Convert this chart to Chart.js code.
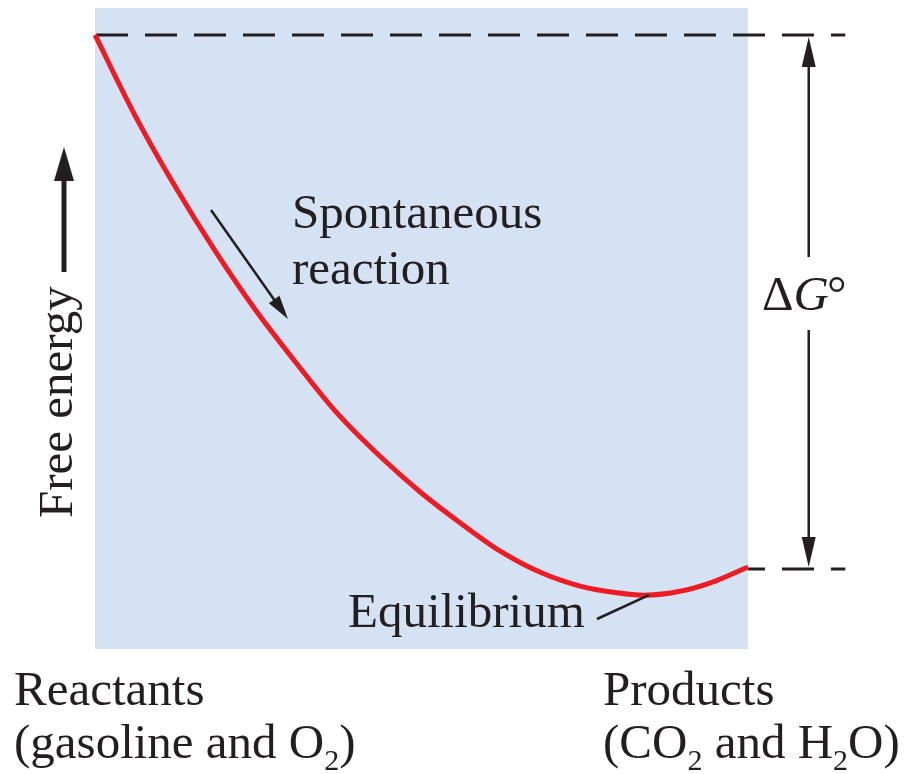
<!DOCTYPE html>
<html>
<head>
<meta charset="utf-8">
<title>Free energy</title>
<script src="https://cdn.jsdelivr.net/npm/chart.js@4"></script>
<style>
  body { margin: 0; background: #fff; }
  canvas { display: block; }
</style>
</head>
<body>
<canvas id="energyChart" width="904" height="774"></canvas>
<script>
// reaction progress (0 = reactants, 100 = products)
const progress = [0, 6.1, 12.3, 18.4, 24.5, 30.6, 36.8, 43.6, 49.8, 55.9, 62.0, 68.1, 74.3, 79.6, 84.2, 89.6, 95.0, 100];
// free energy, arbitrary units
const freeEnergy = [95.8, 83.3, 72.1, 62.1, 53.0, 44.9, 37.1, 30.1, 24.5, 19.7, 15.3, 12.0, 9.8, 8.8, 8.4, 9.0, 10.6, 12.8];

const minIndex = freeEnergy.indexOf(Math.min(...freeEnergy));
const deltaGx = 109.3;   // x position of the ΔG° arrow, same units as progress
const dashEndX = 114.9;  // where the dashed level lines stop

const ink = '#231f20';
const serif = '"Liberation Serif", "DejaVu Serif", serif';

function arrowHead(ctx, tipX, tipY, fromX, fromY, len, half) {
    const a = Math.atan2(tipY - fromY, tipX - fromX);
    ctx.beginPath();
    ctx.moveTo(tipX, tipY);
    ctx.lineTo(tipX - len * Math.cos(a) + half * Math.sin(a), tipY - len * Math.sin(a) - half * Math.cos(a));
    ctx.lineTo(tipX - len * Math.cos(a) - half * Math.sin(a), tipY - len * Math.sin(a) + half * Math.cos(a));
    ctx.closePath();
    ctx.fill();
}

// text with subscript pieces: [[text, isSub], ...]
function subText(ctx, parts, x, y) {
    parts.forEach(function(p) {
        ctx.font = p[1] ? '30px ' + serif : '49px ' + serif;
        ctx.fillText(p[0], x, p[1] ? y + 12 : y);
        x += ctx.measureText(p[0]).width;
    });
}

const diagramPlugin = {
    id: 'diagram',
    beforeDatasetsDraw(chart) {
        const ctx = chart.ctx;
        const a = chart.chartArea;
        const xs = chart.scales.x, ys = chart.scales.y;
        ctx.save();
        ctx.fillStyle = '#d4e2f4';
        ctx.fillRect(a.left, a.top, a.right - a.left, a.bottom - a.top);

        // dashed level lines for reactants and products
        const x0 = xs.getPixelForValue(progress[0]);
        const x1 = xs.getPixelForValue(progress[progress.length - 1]);
        const xe = xs.getPixelForValue(dashEndX);
        const yTop = ys.getPixelForValue(freeEnergy[0]);
        const yBot = ys.getPixelForValue(freeEnergy[freeEnergy.length - 1]) + 2;
        ctx.strokeStyle = ink;
        ctx.lineWidth = 3;
        ctx.setLineDash([32, 17]);
        ctx.lineDashOffset = 0;
        ctx.beginPath();
        ctx.moveTo(x0 + 1, yTop);
        ctx.lineTo(xe, yTop);
        ctx.stroke();
        ctx.lineDashOffset = (x1 - x0 - 1) % 49;
        ctx.beginPath();
        ctx.moveTo(x1, yBot);
        ctx.lineTo(xe, yBot);
        ctx.stroke();
        ctx.restore();
    },
    afterDatasetsDraw(chart) {
        const ctx = chart.ctx;
        const xs = chart.scales.x, ys = chart.scales.y;
        ctx.save();
        ctx.fillStyle = ink;
        ctx.strokeStyle = ink;
        ctx.textBaseline = 'alphabetic';

        // ΔG° double arrow
        const gx = xs.getPixelForValue(deltaGx);
        const yTop = ys.getPixelForValue(freeEnergy[0]);
        const yBot = ys.getPixelForValue(freeEnergy[freeEnergy.length - 1]) + 2;
        ctx.lineWidth = 2.5;
        ctx.beginPath();
        ctx.moveTo(gx, yTop + 20);
        ctx.lineTo(gx, 257);
        ctx.moveTo(gx, 330);
        ctx.lineTo(gx, yBot - 20);
        ctx.stroke();
        arrowHead(ctx, gx, yTop + 2, gx, yTop + 40, 30, 7);
        arrowHead(ctx, gx, yBot - 2, gx, yBot - 40, 30, 7);
        ctx.font = '49px ' + serif;
        ctx.fillText('\u0394', 762, 310);
        let w = ctx.measureText('\u0394').width;
        ctx.font = 'italic 49px ' + serif;
        ctx.fillText('G', 762 + w, 310);
        w += ctx.measureText('G').width;
        ctx.font = '49px ' + serif;
        ctx.fillText('\u00b0', 762 + w - 2, 310);

        // spontaneous reaction arrow and label
        ctx.lineWidth = 2.5;
        ctx.beginPath();
        ctx.moveTo(211, 210);
        ctx.lineTo(280, 308);
        ctx.stroke();
        arrowHead(ctx, 288, 319, 211, 210, 24, 6.5);
        ctx.font = '49px ' + serif;
        ctx.fillText('Spontaneous', 292, 228);
        ctx.fillText('reaction', 292, 284);

        // equilibrium label and leader to the minimum
        const mx = xs.getPixelForValue(progress[minIndex]) + 4;
        const my = ys.getPixelForValue(freeEnergy[minIndex]);
        ctx.lineWidth = 2.5;
        ctx.beginPath();
        ctx.moveTo(597, 619);
        ctx.lineTo(mx, my);
        ctx.stroke();
        ctx.fillText('Equilibrium', 348, 627);

        // free energy axis label with arrow
        ctx.lineWidth = 5;
        ctx.beginPath();
        ctx.moveTo(64, 272);
        ctx.lineTo(64, 175);
        ctx.stroke();
        arrowHead(ctx, 64, 147, 64, 272, 34, 10);
        ctx.save();
        ctx.translate(72, 518);
        ctx.rotate(-Math.PI / 2);
        ctx.fillText('Free energy', 0, 0);
        ctx.restore();

        // end labels
        ctx.font = '49px ' + serif;
        ctx.fillText('Reactants', 14, 705);
        subText(ctx, [['(gasoline and O', false], ['2', true], [')', false]], 14, 758);
        ctx.font = '49px ' + serif;
        ctx.fillText('Products', 603, 705);
        subText(ctx, [['(CO', false], ['2', true], [' and H', false], ['2', true], ['O)', false]], 603, 758);
        ctx.restore();
    }
};

const ctx = document.getElementById('energyChart').getContext('2d');
new Chart(ctx, {
    type: 'line',
    data: {
        datasets: [{
            data: progress.map(function(p, i) { return { x: p, y: freeEnergy[i] }; }),
            borderColor: '#ed1c24',
            borderWidth: 5,
            pointRadius: 0,
            cubicInterpolationMode: 'monotone',
            fill: false,
            clip: false
        }]
    },
    options: {
        responsive: false,
        animation: false,
        layout: { padding: { left: 95, right: 156, top: 8, bottom: 125 } },
        plugins: { legend: { display: false }, tooltip: { enabled: false } },
        scales: {
            x: { type: 'linear', min: 0, max: 100, display: false },
            y: { min: 0, max: 100, display: false }
        }
    },
    plugins: [diagramPlugin]
});
</script>
</body>
</html>
